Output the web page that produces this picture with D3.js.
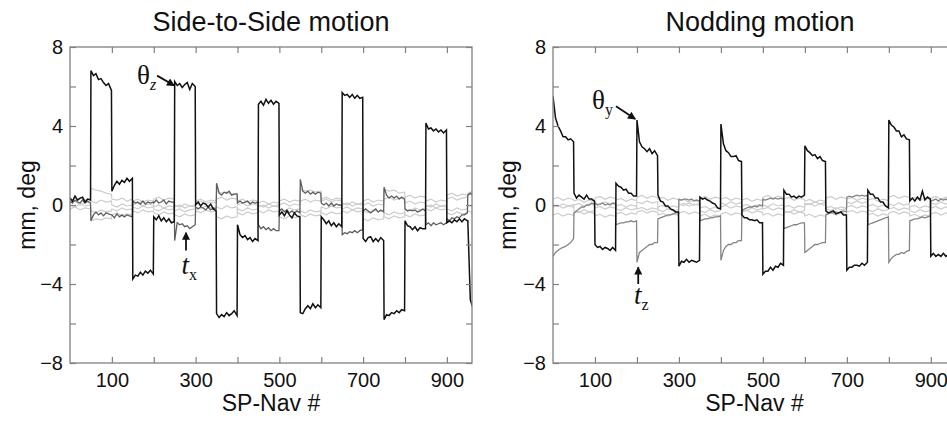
<!DOCTYPE html>
<html>
<head>
<meta charset="utf-8">
<script src="https://cdn.jsdelivr.net/npm/d3@7"></script>
<style>
  html, body { margin: 0; padding: 0; background: #fff; }
  svg { display: block; }
  .tick line { stroke: #808080; stroke-width: 1.2; }
  .tick text { font-family: "Liberation Sans", Arial, Helvetica, sans-serif; font-size: 20px; fill: #111; }
  .frame { fill: none; stroke: #808080; stroke-width: 1.3; }
  .title, .axis-label { font-family: "Liberation Sans", Arial, Helvetica, sans-serif; fill: #111; }
  .title { font-size: 27px; }
  .axis-label { font-size: 23px; }
  .note { font-family: "Liberation Serif", "Times New Roman", serif; fill: #111; }
</style>
</head>
<body>
<svg id="chart" width="947" height="423"></svg>
<script>
// Two panels of SP-Nav motion traces, 960 navigator samples each.
// Traces are stored per 50-sample block.

const blockSize = 50;
const fineOffsets = [0, 6, 12, 18, 24, 30, 36, 42, 49];
const coarseOffsets = [0, 12, 24, 36, 49];

const yTicks = [-8, -6, -4, -2, 0, 2, 4, 6, 8];
const yLabels = [-8, -4, 0, 4, 8];
const xTicks = [100, 200, 300, 400, 500, 600, 700, 800, 900];
const xLabels = [100, 300, 500, 700, 900];

// ---------------------------------------------------------------------------
// Side-to-Side motion
// ---------------------------------------------------------------------------

const sideThetaZ = [
  [0.35, 0.2, 0.45, 0.25, 0.35, 0.4, 0.15, 0.3, 0.25],
  [6.8, 6.55, 6.65, 6.35, 6.4, 6.2, 6.05, 6.15, 5.8],
  [0.7, 1.0, 1.2, 1.05, 1.25, 1.15, 1.35, 1.2, 1.35],
  [-3.75, -3.55, -3.6, -3.4, -3.55, -3.35, -3.45, -3.3, -3.5],
  [-0.6, -0.75, -0.55, -0.8, -0.65, -0.85, -0.7, -0.9, -0.85],
  [6.25, 6.05, 6.15, 5.95, 6.1, 6.2, 5.85, 6.15, 6.0],
  [0.0, 0.15, -0.05, 0.1, 0.05, -0.1, 0.05, -0.2, -0.3],
  [-5.5, -5.7, -5.55, -5.65, -5.45, -5.6, -5.5, -5.35, -5.6],
  [-1.0, -1.5, -1.65, -1.55, -1.75, -1.65, -1.85, -1.7, -1.8],
  [5.1, 5.25, 5.05, 5.35, 5.15, 5.3, 5.1, 5.25, 5.15],
  [-0.5, -0.35, -0.55, -0.3, -0.5, -0.65, -0.4, -0.55, -0.6],
  [-5.45, -5.5, -5.25, -5.1, -5.25, -5.0, -5.2, -5.05, -5.2],
  [-0.6, -0.75, -0.95, -0.8, -1.05, -0.9, -1.1, -0.95, -1.1],
  [5.7, 5.55, 5.6, 5.45, 5.6, 5.4, 5.55, 5.4, 5.45],
  [-1.7, -1.85, -1.65, -1.6, -1.85, -1.7, -1.85, -1.65, -1.8],
  [-5.8, -5.55, -5.6, -5.45, -5.5, -5.35, -5.45, -5.3, -5.35],
  [-0.8, -1.05, -1.1, -1.25, -1.1, -1.3, -1.15, -1.2, -1.2],
  [4.15, 3.85, 3.9, 3.75, 3.85, 3.7, 3.8, 3.65, 3.8],
  [-0.9, -0.8, -0.9, -0.75, -0.85, -0.7, -0.85, -0.7, -0.8],
  [-0.8, -4.8, -5.2, -5.2, -5.1, -5.2, -5.1, -5.2, -5.1]
];

const sideTx = [
  [0.2, 0.1, 0.25, 0.15, 0.1, 0.25, 0.1, 0.2, 0.1],
  [-0.8, -0.5, -0.35, -0.5, -0.4, -0.55, -0.4, -0.45, -0.5],
  [-0.5, -0.65, -0.45, -0.6, -0.5, -0.6, -0.5, -0.55, -0.6],
  [0.2, 0.1, 0.15, 0.05, 0.2, 0.05, 0.15, 0.1, 0.15],
  [0.1, 0.25, 0.1, 0.15, 0.25, 0.05, 0.2, 0.15, 0.15],
  [-1.8, -0.9, -1.0, -0.95, -1.1, -1.05, -1.2, -1.1, -1.0],
  [-0.1, -0.2, -0.1, -0.15, -0.25, -0.1, -0.25, -0.15, -0.2],
  [1.1, 0.6, 0.5, 0.65, 0.6, 0.7, 0.5, 0.55, 0.55],
  [0.1, 0.2, 0.1, 0.15, 0.2, 0.05, 0.15, 0.1, 0.15],
  [-1.0, -1.2, -1.1, -1.25, -1.15, -1.3, -1.2, -1.3, -1.3],
  [-0.3, -0.2, -0.35, -0.25, -0.4, -0.3, -0.4, -0.3, -0.4],
  [1.3, 0.7, 0.6, 0.7, 0.55, 0.65, 0.55, 0.65, 0.6],
  [0.1, 0.0, 0.1, -0.05, 0.1, -0.05, 0.05, 0.0, 0.0],
  [-1.5, -1.4, -1.45, -1.35, -1.4, -1.3, -1.4, -1.3, -1.25],
  [-0.3, -0.2, -0.3, -0.4, -0.3, -0.2, -0.35, -0.25, -0.35],
  [0.9, 0.5, 0.35, 0.45, 0.35, 0.45, 0.3, 0.4, 0.3],
  [-0.2, -0.3, -0.25, -0.3, -0.25, -0.35, -0.3, -0.2, -0.3],
  [-1.0, -0.9, -1.05, -0.9, -1.0, -0.95, -0.9, -1.0, -0.9],
  [-0.7, -0.8, -0.65, -0.7, -0.6, -0.65, -0.5, -0.5, -0.4],
  [0.5, 0.6, 0.5, 0.55, 0.5, 0.5, 0.5, 0.5, 0.5]
];

const sideLight1 = [
  [0.1, 0.2, 0.0, 0.15, 0.1], [0.85, 0.75, 0.7, 0.6, 0.55], [0.3, 0.25, 0.35, 0.2, 0.3],
  [0.0, 0.1, -0.05, 0.05, 0.0], [-0.1, 0.0, -0.15, -0.05, -0.1], [-0.3, -0.2, -0.35, -0.25, -0.2],
  [0.1, 0.2, 0.05, 0.15, 0.1], [0.7, 0.6, 0.65, 0.55, 0.6], [0.2, 0.3, 0.15, 0.25, 0.2],
  [-0.1, 0.0, -0.15, -0.05, -0.1], [0.0, 0.1, -0.05, 0.05, 0.0], [0.8, 0.7, 0.75, 0.65, 0.7],
  [0.2, 0.3, 0.15, 0.25, 0.2], [-0.2, -0.1, -0.25, -0.15, -0.2], [0.0, 0.1, -0.05, 0.05, 0.0],
  [0.8, 0.7, 0.75, 0.6, 0.65], [0.1, 0.2, 0.05, 0.15, 0.1], [-0.1, 0.0, -0.15, -0.05, -0.1],
  [0.3, 0.4, 0.25, 0.35, 0.4], [0.5, 0.6, 0.5, 0.5, 0.5]
];
const sideLight2 = [
  [0.0, -0.1, 0.05, -0.05, 0.0], [-0.3, -0.4, -0.25, -0.35, -0.3], [-0.2, -0.3, -0.15, -0.25, -0.2],
  [-0.1, -0.2, -0.05, -0.15, -0.1], [-0.2, -0.3, -0.15, -0.25, -0.2], [-0.5, -0.6, -0.45, -0.55, -0.5],
  [-0.3, -0.4, -0.25, -0.35, -0.3], [-0.1, -0.2, -0.05, -0.15, -0.1], [-0.4, -0.5, -0.35, -0.45, -0.4],
  [-0.3, -0.4, -0.25, -0.35, -0.3], [-0.6, -0.7, -0.55, -0.65, -0.6], [-0.3, -0.4, -0.25, -0.35, -0.3],
  [-0.4, -0.5, -0.35, -0.45, -0.4], [-0.3, -0.4, -0.25, -0.35, -0.3], [-0.7, -0.8, -0.65, -0.75, -0.7],
  [-0.4, -0.5, -0.35, -0.45, -0.4], [-0.5, -0.6, -0.45, -0.55, -0.5], [-0.2, -0.3, -0.15, -0.25, -0.2],
  [-0.4, -0.5, -0.35, -0.45, -0.4], [-0.3, -0.4, -0.3, -0.3, -0.3]
];
const sideLight3 = [
  [-0.2, -0.1, -0.25, -0.15, -0.2], [-0.8, -0.7, -0.75, -0.65, -0.7], [-0.5, -0.4, -0.55, -0.45, -0.5],
  [0.2, 0.3, 0.15, 0.25, 0.2], [0.3, 0.4, 0.25, 0.35, 0.3], [-0.1, 0.0, -0.15, -0.05, -0.1],
  [0.2, 0.3, 0.15, 0.25, 0.2], [0.3, 0.4, 0.25, 0.35, 0.3], [0.0, 0.1, -0.05, 0.05, 0.0],
  [0.1, 0.2, 0.05, 0.15, 0.1], [0.2, 0.3, 0.15, 0.25, 0.2], [0.2, 0.3, 0.15, 0.25, 0.2],
  [0.3, 0.4, 0.25, 0.35, 0.3], [0.0, 0.1, -0.05, 0.05, 0.0], [0.2, 0.3, 0.15, 0.25, 0.2],
  [0.3, 0.4, 0.25, 0.35, 0.3], [0.4, 0.5, 0.35, 0.45, 0.4], [0.2, 0.3, 0.15, 0.25, 0.2],
  [0.5, 0.6, 0.45, 0.55, 0.5], [0.6, 0.7, 0.6, 0.6, 0.6]
];
const sideLight4 = [
  [0.3, 0.2, 0.35, 0.25, 0.3], [0.2, 0.1, 0.25, 0.15, 0.2], [0.0, -0.1, 0.05, -0.05, 0.0],
  [-0.3, -0.4, -0.25, -0.35, -0.3], [-0.4, -0.5, -0.35, -0.45, -0.4], [0.0, -0.1, 0.05, -0.05, 0.0],
  [-0.1, -0.2, -0.05, -0.15, -0.1], [-0.6, -0.7, -0.55, -0.65, -0.6], [-0.2, -0.3, -0.15, -0.25, -0.2],
  [0.0, -0.1, 0.05, -0.05, 0.0], [-0.2, -0.3, -0.15, -0.25, -0.2], [-0.5, -0.6, -0.45, -0.55, -0.5],
  [-0.1, -0.2, -0.05, -0.15, -0.1], [0.1, 0.0, 0.15, 0.05, 0.1], [-0.3, -0.4, -0.25, -0.35, -0.3],
  [-0.6, -0.7, -0.55, -0.65, -0.6], [-0.2, -0.3, -0.15, -0.25, -0.2], [0.0, -0.1, 0.05, -0.05, 0.0],
  [-0.2, -0.3, -0.15, -0.25, -0.2], [0.0, -0.1, 0.0, 0.0, 0.0]
];

// ---------------------------------------------------------------------------
// Nodding motion
// ---------------------------------------------------------------------------

const nodThetaY = [
  [5.5, 4.4, 4.0, 3.75, 3.45, 3.45, 3.3, 3.35, 3.2],
  [0.6, 0.35, 0.5, 0.4, 0.3, 0.5, 0.3, 0.3, 0.2],
  [-2.0, -2.15, -2.1, -2.25, -2.15, -2.2, -2.3, -2.15, -2.3],
  [1.1, 0.95, 0.9, 0.75, 0.8, 0.6, 0.6, 0.45, 0.45],
  [4.3, 3.2, 2.95, 2.85, 2.7, 2.85, 2.6, 2.75, 2.5],
  [0.5, 0.2, 0.15, -0.05, -0.05, -0.2, -0.25, -0.35, -0.35],
  [-3.1, -2.85, -2.9, -2.75, -2.9, -2.8, -2.85, -2.9, -2.8],
  [0.4, 0.3, 0.35, 0.25, 0.2, 0.1, 0.05, -0.15, -0.2],
  [4.1, 3.1, 2.75, 2.65, 2.45, 2.45, 2.5, 2.25, 2.2],
  [-0.5, -0.65, -0.65, -0.75, -0.75, -0.8, -0.75, -0.9, -0.9],
  [-3.5, -3.35, -3.35, -3.15, -3.3, -3.1, -3.15, -2.95, -3.05],
  [0.75, 0.55, 0.55, 0.4, 0.45, 0.35, 0.45, 0.4, 0.5],
  [3.0, 2.75, 2.65, 2.5, 2.55, 2.35, 2.45, 2.25, 2.2],
  [-0.3, -0.4, -0.35, -0.3, -0.45, -0.4, -0.35, -0.5, -0.5],
  [-3.3, -3.15, -3.15, -3.05, -3.05, -3.1, -2.95, -3.05, -2.9],
  [0.75, 0.55, 0.55, 0.35, 0.35, 0.15, 0.15, -0.05, -0.15],
  [4.3, 4.05, 3.95, 3.75, 3.75, 3.45, 3.55, 3.35, 3.3],
  [0.2, 0.35, 0.2, 0.4, 0.25, 0.7, 0.25, 0.4, 0.3],
  [-2.6, -2.45, -2.6, -2.5, -2.6, -2.45, -2.6, -2.5, -2.55],
  [-2.5, -2.6, -2.5, -2.5, -2.6, -2.5, -2.5, -2.6, -2.5]
];

const nodTz = [
  [-2.6, -2.4, -2.3, -2.2, -2.15, -2.1, -2.0, -1.9, -1.7],
  [-0.4, -0.3, -0.2, -0.1, -0.1, 0.0, 0.0, 0.1, 0.05],
  [0.1, 0.0, 0.05, 0.1, 0.0, 0.05, 0.0, 0.1, 0.05],
  [-1.0, -0.95, -0.9, -0.9, -0.85, -0.85, -0.8, -0.85, -0.8],
  [-2.9, -2.4, -2.3, -2.2, -2.1, -2.0, -2.0, -1.9, -1.9],
  [-0.7, -0.65, -0.6, -0.55, -0.5, -0.5, -0.45, -0.4, -0.4],
  [0.3, 0.25, 0.3, 0.3, 0.25, 0.3, 0.2, 0.25, 0.2],
  [-0.8, -0.75, -0.7, -0.7, -0.65, -0.65, -0.6, -0.6, -0.55],
  [-2.8, -2.3, -2.1, -2.0, -2.0, -1.9, -1.9, -1.8, -1.8],
  [-0.3, -0.2, -0.15, -0.1, -0.1, -0.05, -0.1, 0.0, -0.05],
  [0.3, 0.25, 0.3, 0.35, 0.3, 0.35, 0.3, 0.35, 0.3],
  [-1.2, -1.15, -1.1, -1.05, -1.0, -1.0, -0.95, -0.9, -0.9],
  [-2.4, -2.3, -2.2, -2.1, -2.0, -2.0, -1.95, -1.9, -1.9],
  [-0.5, -0.45, -0.4, -0.4, -0.35, -0.4, -0.35, -0.3, -0.35],
  [0.4, 0.45, 0.4, 0.45, 0.5, 0.45, 0.5, 0.45, 0.5],
  [-1.0, -0.95, -0.9, -0.85, -0.8, -0.75, -0.7, -0.65, -0.6],
  [-2.9, -2.7, -2.6, -2.5, -2.5, -2.4, -2.45, -2.35, -2.3],
  [-0.8, -0.75, -0.7, -0.7, -0.65, -0.6, -0.65, -0.6, -0.55],
  [0.2, 0.25, 0.3, 0.2, 0.3, 0.25, 0.3, 0.2, 0.25],
  [0.2, 0.25, 0.2, 0.3, 0.2, 0.25, 0.2, 0.3, 0.2]
];

const nodLight1 = [
  [0.3, 0.38, 0.24, 0.35, 0.28], [0.2, 0.28, 0.14, 0.25, 0.18], [0.35, 0.43, 0.29, 0.4, 0.33],
  [0.25, 0.33, 0.19, 0.3, 0.23], [0.4, 0.48, 0.34, 0.45, 0.38], [0.3, 0.38, 0.24, 0.35, 0.28],
  [0.2, 0.28, 0.14, 0.25, 0.18], [0.35, 0.43, 0.29, 0.4, 0.33], [0.3, 0.38, 0.24, 0.35, 0.28],
  [0.25, 0.33, 0.19, 0.3, 0.23], [0.4, 0.48, 0.34, 0.45, 0.38], [0.3, 0.38, 0.24, 0.35, 0.28],
  [0.2, 0.28, 0.14, 0.25, 0.18], [0.35, 0.43, 0.29, 0.4, 0.33], [0.3, 0.38, 0.24, 0.35, 0.28],
  [0.25, 0.33, 0.19, 0.3, 0.23], [0.4, 0.48, 0.34, 0.45, 0.38], [0.3, 0.38, 0.24, 0.35, 0.28],
  [0.35, 0.43, 0.29, 0.4, 0.33], [0.3, 0.38, 0.24, 0.35, 0.28]
];
const nodLight2 = [
  [-0.1, -0.02, -0.16, -0.05, -0.12], [0.0, 0.08, -0.06, 0.05, -0.02], [-0.15, -0.07, -0.21, -0.1, -0.17],
  [-0.05, 0.03, -0.11, 0.0, -0.07], [-0.2, -0.12, -0.26, -0.15, -0.22], [-0.1, -0.02, -0.16, -0.05, -0.12],
  [0.0, 0.08, -0.06, 0.05, -0.02], [-0.15, -0.07, -0.21, -0.1, -0.17], [-0.1, -0.02, -0.16, -0.05, -0.12],
  [-0.05, 0.03, -0.11, 0.0, -0.07], [-0.2, -0.12, -0.26, -0.15, -0.22], [-0.1, -0.02, -0.16, -0.05, -0.12],
  [0.0, 0.08, -0.06, 0.05, -0.02], [-0.15, -0.07, -0.21, -0.1, -0.17], [-0.1, -0.02, -0.16, -0.05, -0.12],
  [-0.05, 0.03, -0.11, 0.0, -0.07], [-0.2, -0.12, -0.26, -0.15, -0.22], [-0.1, -0.02, -0.16, -0.05, -0.12],
  [-0.15, -0.07, -0.21, -0.1, -0.17], [-0.1, -0.02, -0.16, -0.05, -0.12]
];
const nodLight3 = [
  [-0.5, -0.42, -0.56, -0.45, -0.52], [-0.4, -0.32, -0.46, -0.35, -0.42], [-0.55, -0.47, -0.61, -0.5, -0.57],
  [-0.45, -0.37, -0.51, -0.4, -0.47], [-0.35, -0.27, -0.41, -0.3, -0.37], [-0.5, -0.42, -0.56, -0.45, -0.52],
  [-0.4, -0.32, -0.46, -0.35, -0.42], [-0.55, -0.47, -0.61, -0.5, -0.57], [-0.45, -0.37, -0.51, -0.4, -0.47],
  [-0.35, -0.27, -0.41, -0.3, -0.37], [-0.5, -0.42, -0.56, -0.45, -0.52], [-0.4, -0.32, -0.46, -0.35, -0.42],
  [-0.55, -0.47, -0.61, -0.5, -0.57], [-0.45, -0.37, -0.51, -0.4, -0.47], [-0.35, -0.27, -0.41, -0.3, -0.37],
  [-0.5, -0.42, -0.56, -0.45, -0.52], [-0.4, -0.32, -0.46, -0.35, -0.42], [-0.55, -0.47, -0.61, -0.5, -0.57],
  [-0.45, -0.37, -0.51, -0.4, -0.47], [-0.4, -0.32, -0.46, -0.35, -0.42]
];
const nodLight4 = [
  [0.0, -0.08, 0.06, -0.05, 0.02], [-0.3, -0.38, -0.24, -0.35, -0.28], [0.1, 0.02, 0.16, 0.05, 0.12],
  [-0.2, -0.28, -0.14, -0.25, -0.18], [0.15, 0.07, 0.21, 0.1, 0.17], [-0.25, -0.33, -0.19, -0.3, -0.23],
  [0.05, -0.03, 0.11, 0.0, 0.07], [-0.3, -0.38, -0.24, -0.35, -0.28], [0.1, 0.02, 0.16, 0.05, 0.12],
  [-0.2, -0.28, -0.14, -0.25, -0.18], [0.0, -0.08, 0.06, -0.05, 0.02], [-0.3, -0.38, -0.24, -0.35, -0.28],
  [0.1, 0.02, 0.16, 0.05, 0.12], [-0.2, -0.28, -0.14, -0.25, -0.18], [0.15, 0.07, 0.21, 0.1, 0.17],
  [-0.25, -0.33, -0.19, -0.3, -0.23], [0.05, -0.03, 0.11, 0.0, 0.07], [-0.3, -0.38, -0.24, -0.35, -0.28],
  [0.1, 0.02, 0.16, 0.05, 0.12], [-0.2, -0.28, -0.14, -0.25, -0.18]
];

// ---------------------------------------------------------------------------
// Layout
// ---------------------------------------------------------------------------

const TOP = 47, BOTTOM = 363;
const TICK = 6;

const panels = [
  {
    id: 'side', title: 'Side-to-Side motion', x0: 70, x1: 472, titleX: 271, labelX: 27,
    lights: [sideLight1, sideLight2, sideLight3, sideLight4],
    mid: sideTx, midColor: '#5e5e5e', main: sideThetaZ,
    thetaSub: 'z', thetaItalic: true, thetaArrow: { from: [208, 6.55], to: [249, 6.05] }, thetaText: [160, 6.15],
    tSub: 'x', tArrow: { from: [277, -2.3], to: [277, -1.4] }, tText: [266, -3.5]
  },
  {
    id: 'nod', title: 'Nodding motion', x0: 553, x1: 956, titleX: 760, labelX: 508,
    lights: [nodLight1, nodLight2, nodLight3, nodLight4],
    mid: nodTz, midColor: '#848484', main: nodThetaY,
    thetaSub: 'y', thetaItalic: false, thetaArrow: { from: [150, 5.0], to: [196, 4.35] }, thetaText: [93, 4.85],
    tSub: 'z', tArrow: { from: [203, -4.0], to: [203, -3.15] }, tText: [193, -5.0]
  }
];

const svg = d3.select('#chart');
svg.append('rect').attr('width', 947).attr('height', 423).attr('fill', '#fff');

const defs = svg.append('defs');
defs.append('marker')
  .attr('id', 'head')
  .attr('viewBox', '0 0 10 10')
  .attr('refX', 9).attr('refY', 5)
  .attr('markerWidth', 9).attr('markerHeight', 8)
  .attr('markerUnits', 'userSpaceOnUse')
  .attr('orient', 'auto')
  .append('path').attr('d', 'M0,0 L10,5 L0,10 z').attr('fill', '#111');

const y = d3.scaleLinear().domain([-8, 8]).range([BOTTOM, TOP]);

function toPoints(blocks, offsets) {
  return blocks.flatMap((vals, b) => vals.map((v, i) => [b * blockSize + offsets[i], v]));
}

const fmt = d3.format('');

panels.forEach(p => {
  const x = d3.scaleLinear().domain([0, 960]).range([p.x0, p.x1]);
  const g = svg.append('g');

  defs.append('clipPath').attr('id', `clip-${p.id}`)
    .append('rect')
    .attr('x', p.x0).attr('y', TOP)
    .attr('width', p.x1 - p.x0).attr('height', BOTTOM - TOP);

  const line = d3.line().x(d => x(d[0])).y(d => y(d[1]));
  const traces = g.append('g').attr('clip-path', `url(#clip-${p.id})`).attr('fill', 'none');

  p.lights.forEach(s => {
    traces.append('path')
      .attr('d', line(toPoints(s, coarseOffsets)))
      .attr('stroke', '#cdcdcd').attr('stroke-width', 1.2);
  });
  traces.append('path')
    .attr('d', line(toPoints(p.mid, fineOffsets)))
    .attr('stroke', p.midColor).attr('stroke-width', 1.3);
  traces.append('path')
    .attr('d', line(toPoints(p.main, fineOffsets)))
    .attr('stroke', '#111').attr('stroke-width', 1.5);

  // Axes with inward ticks on all four sides
  const yFmt = d => yLabels.includes(d) ? fmt(d) : '';
  const xFmt = d => xLabels.includes(d) ? fmt(d) : '';

  g.append('g').attr('transform', `translate(${p.x0},0)`)
    .call(d3.axisLeft(y).tickValues(yTicks).tickSizeInner(-TICK).tickSizeOuter(0).tickPadding(7).tickFormat(yFmt))
    .call(a => a.select('.domain').remove());
  g.append('g').attr('transform', `translate(${p.x1},0)`)
    .call(d3.axisRight(y).tickValues(yTicks).tickSizeInner(-TICK).tickSizeOuter(0).tickFormat(''))
    .call(a => a.select('.domain').remove());
  g.append('g').attr('transform', `translate(0,${BOTTOM})`)
    .call(d3.axisBottom(x).tickValues(xTicks).tickSizeInner(-TICK).tickSizeOuter(0).tickPadding(10).tickFormat(xFmt))
    .call(a => a.select('.domain').remove());
  g.append('g').attr('transform', `translate(0,${TOP})`)
    .call(d3.axisTop(x).tickValues(xTicks).tickSizeInner(-TICK).tickSizeOuter(0).tickFormat(''))
    .call(a => a.select('.domain').remove());

  g.selectAll('.tick text').attr('font-family', null).attr('font-size', null);

  g.append('rect').attr('class', 'frame')
    .attr('x', p.x0).attr('y', TOP)
    .attr('width', p.x1 - p.x0).attr('height', BOTTOM - TOP);

  // Titles and axis labels
  g.append('text').attr('class', 'title')
    .attr('x', p.titleX).attr('y', 31)
    .attr('text-anchor', 'middle').text(p.title);
  g.append('text').attr('class', 'axis-label')
    .attr('x', (p.x0 + p.x1) / 2).attr('y', 411)
    .attr('text-anchor', 'middle').text('SP-Nav #');
  g.append('text').attr('class', 'axis-label')
    .attr('transform', `translate(${p.labelX + 8},${(TOP + BOTTOM) / 2}) rotate(-90)`)
    .attr('text-anchor', 'middle').text('mm, deg');

  // Annotations
  const th = g.append('text').attr('class', 'note')
    .attr('x', x(p.thetaText[0])).attr('y', y(p.thetaText[1]));
  th.append('tspan').attr('font-size', 27).text('θ');
  th.append('tspan').attr('font-size', 16).attr('font-style', p.thetaItalic ? 'italic' : null)
    .attr('dy', 6).text(p.thetaSub);

  g.append('line')
    .attr('x1', x(p.thetaArrow.from[0])).attr('y1', y(p.thetaArrow.from[1]))
    .attr('x2', x(p.thetaArrow.to[0])).attr('y2', y(p.thetaArrow.to[1]))
    .attr('stroke', '#111').attr('stroke-width', 1.8).attr('marker-end', 'url(#head)');

  g.append('line')
    .attr('x1', x(p.tArrow.from[0])).attr('y1', y(p.tArrow.from[1]))
    .attr('x2', x(p.tArrow.to[0])).attr('y2', y(p.tArrow.to[1]))
    .attr('stroke', '#111').attr('stroke-width', 1.8).attr('marker-end', 'url(#head)');

  const tt = g.append('text').attr('class', 'note')
    .attr('x', x(p.tText[0])).attr('y', y(p.tText[1]));
  tt.append('tspan').attr('font-size', 27).attr('font-style', 'italic').text('t');
  tt.append('tspan').attr('font-size', 16).attr('dy', 6).text(p.tSub);
});
</script>
</body>
</html>
